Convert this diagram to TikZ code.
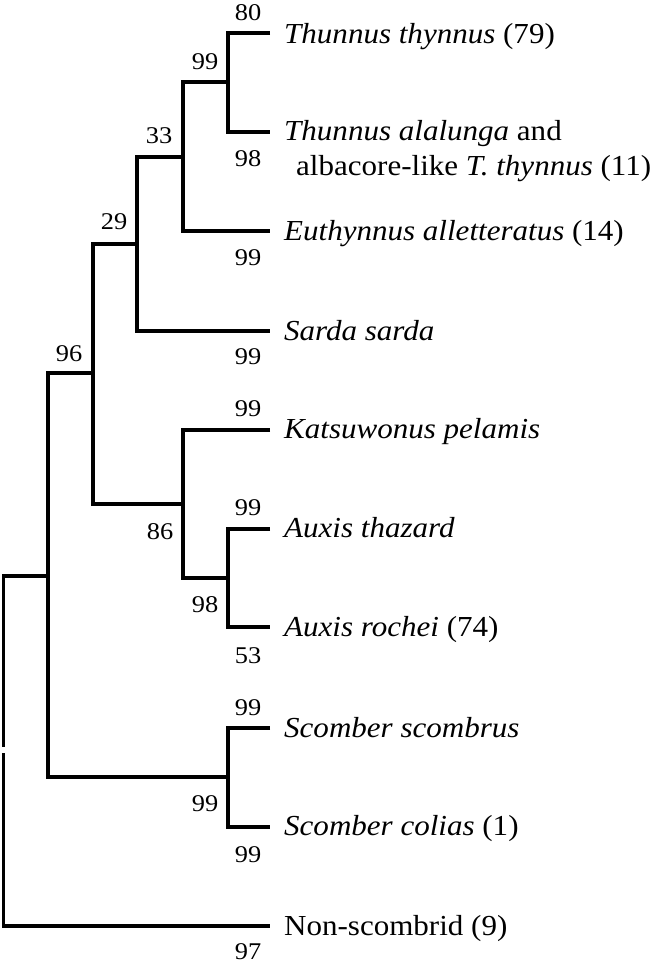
\documentclass[tikz,border=0pt]{standalone}
\usepackage{fontspec}
\usepackage{graphicx}
\setmainfont{Liberation Serif}
\newcommand\numtxt[1]{\scalebox{1.1}[1]{#1}}
\newcommand\sptxt[1]{\scalebox{1.07}[1]{#1}}
\begin{document}
\begin{tikzpicture}[x=1pt,y=-1pt,
  br/.style={line width=3.3pt, line join=miter, line cap=butt},
  num/.style={font=\fontsize{24}{28}\selectfont, inner sep=0pt},
  sp/.style={anchor=base west, inner sep=0pt, font=\fontsize{29}{34}\selectfont}]
\useasboundingbox (0,0) rectangle (651,964);
% leaf ends
\coordinate (l1) at (270,33);
\coordinate (l2) at (270,132);
\coordinate (l3) at (270,231);
\coordinate (l4) at (270,331);
\coordinate (l5) at (270,430);
\coordinate (l6) at (270,529);
\coordinate (l7) at (270,627);
\coordinate (l8) at (270,728);
\coordinate (l9) at (270,827);
\coordinate (l10) at (270,926);
% internal nodes
\coordinate (n1) at (228,82);
\coordinate (n2) at (183,157);
\coordinate (n3) at (137,244);
\coordinate (n4) at (93,373);
\coordinate (n5) at (183,504);
\coordinate (n6) at (228,578);
\coordinate (n7) at (48,576);
\coordinate (n8) at (228,777);
\coordinate (rtop) at (3.4,747);
\coordinate (rbot) at (3.4,753);
% branches
\draw[br] (l1) -| (n1) |- (l2);
\draw[br] (n1) -| (n2) |- (l3);
\draw[br] (n2) -| (n3) |- (l4);
\draw[br] (n3) -| (n4) |- (n5);
\draw[br] (l5) -| (n5) |- (n6);
\draw[br] (l6) -| (n6) |- (l7);
\draw[br] (n4) -| (n7) |- (n8);
\draw[br] (l8) -| (n8) |- (l9);
\draw[br] (n7) -| (rtop);
\draw[br] (rbot) |- (l10);
% species labels
\node[sp] (t1) at (284,43) {\sptxt{\textit{Thunnus thynnus} (79)}};
\node[sp] (t2a) at (284,140) {\sptxt{\textit{Thunnus alalunga} and}};
\node[sp] (t2b) at (296,175) {\sptxt{albacore-like \textit{T. thynnus} (11)}};
\node[sp] (t3) at (284,240) {\sptxt{\textit{Euthynnus alletteratus} (14)}};
\node[sp] (t4) at (284,340) {\sptxt{\textit{Sarda sarda}}};
\node[sp] (t5) at (284,438) {\sptxt{\textit{Katsuwonus pelamis}}};
\node[sp] (t6) at (284,537) {\sptxt{\textit{Auxis thazard}}};
\node[sp] (t7) at (284,636) {\sptxt{\textit{Auxis rochei} (74)}};
\node[sp] (t8) at (284,737) {\sptxt{\textit{Scomber scombrus}}};
\node[sp] (t9) at (284,835) {\sptxt{\textit{Scomber colias} (1)}};
\node[sp] (t10) at (284,935) {\sptxt{Non-scombrid (9)}};
% support values
\node[num] (b1) at (248,13) {\numtxt{80}};
\node[num] (b2) at (205,62) {\numtxt{99}};
\node[num] (b3) at (248,159) {\numtxt{98}};
\node[num] (b4) at (159,136) {\numtxt{33}};
\node[num] (b5) at (114,222) {\numtxt{29}};
\node[num] (b6) at (248,258) {\numtxt{99}};
\node[num] (b7) at (248,357) {\numtxt{99}};
\node[num] (b8) at (69,354) {\numtxt{96}};
\node[num] (b9) at (248,409) {\numtxt{99}};
\node[num] (b10) at (160,532) {\numtxt{86}};
\node[num] (b11) at (248,508) {\numtxt{99}};
\node[num] (b12) at (205,605) {\numtxt{98}};
\node[num] (b13) at (248,656) {\numtxt{53}};
\node[num] (b14) at (248,708) {\numtxt{99}};
\node[num] (b15) at (205,804) {\numtxt{99}};
\node[num] (b16) at (248,855) {\numtxt{99}};
\node[num] (b17) at (248,951.5) {\numtxt{97}};
\end{tikzpicture}
\end{document}
